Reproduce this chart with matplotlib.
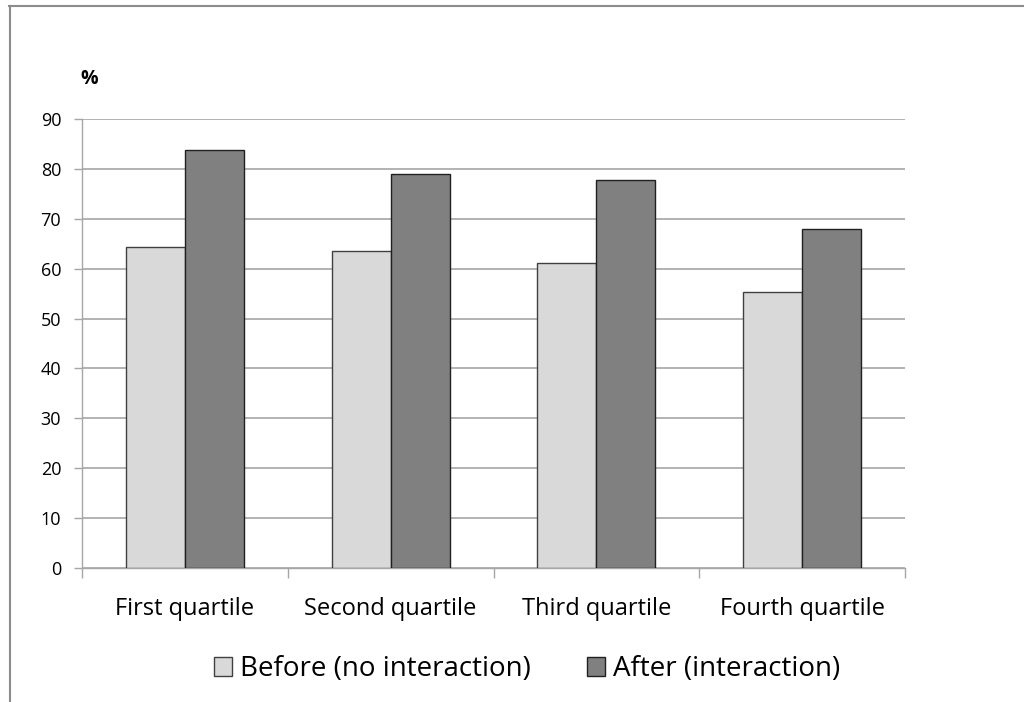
import matplotlib
matplotlib.use("Agg")
import matplotlib.pyplot as plt
from matplotlib.lines import Line2D
from matplotlib.patches import Patch
import numpy as np

categories = ["First quartile", "Second quartile", "Third quartile", "Fourth quartile"]
before = [64.3, 63.5, 61.1, 55.3]
after = [83.8, 79.0, 77.8, 67.9]
series_labels = ["Before (no interaction)", "After (interaction)"]
yticks = [0, 10, 20, 30, 40, 50, 60, 70, 80, 90]

plt.rcParams["font.family"] = ["Open Sans", "DejaVu Sans"]

fig = plt.figure(figsize=(10.24, 7.02), dpi=100)
ax = fig.add_axes([82 / 1024, 1 - 568 / 702, (905 - 82) / 1024, (568 - 119) / 702])

x = np.arange(len(categories))
w = 0.287
ax.bar(x - w / 2, before, width=w, color="#d9d9d9", edgecolor="#404040", linewidth=1.0, zorder=3)
ax.bar(x + w / 2, after, width=w, color="#808080", edgecolor="#202020", linewidth=1.0, zorder=3)

ax.set_xlim(-0.5, len(categories) - 0.5)
ax.set_ylim(0, 90)
ax.set_yticks(yticks)
ax.set_yticklabels([str(t) for t in yticks])
ax.yaxis.grid(True, color="#a6a6a6", linewidth=1.2, zorder=0)

# category separators as major ticks, labels as minor ticks
ax.set_xticks(np.arange(-0.5, len(categories), 1.0))
ax.set_xticklabels([])
ax.set_xticks(x, minor=True)
ax.set_xticklabels(categories, minor=True, fontsize=17)
ax.tick_params(axis="x", which="major", length=7, color="#a6a6a6", width=1.0)
ax.tick_params(axis="x", which="minor", length=0, pad=21)
ax.tick_params(axis="y", length=6, color="#a6a6a6", width=1.0, labelsize=13, pad=9)

for side in ["top", "right"]:
    ax.spines[side].set_visible(False)
for side in ["left", "bottom"]:
    ax.spines[side].set_color("#a6a6a6")
    ax.spines[side].set_linewidth(1.0)

fig.text(80 / 1024, 1 - 79 / 702, "%", fontsize=14, fontweight="bold", va="center", ha="left")

handles = [
    Patch(facecolor="#d9d9d9", edgecolor="#404040", linewidth=1.0),
    Patch(facecolor="#808080", edgecolor="#202020", linewidth=1.0),
]
fig.legend(handles, series_labels, loc="center", bbox_to_anchor=(527 / 1024, 1 - 669 / 702),
           ncol=2, frameon=False, fontsize=20, handlelength=0.65, handleheight=0.65,
           handletextpad=0.3, columnspacing=2.0, borderpad=0)

# outer chart border (left and top edges)
fig.add_artist(Line2D([9.5 / 1024, 9.5 / 1024], [0, 1 - 6 / 702], color="#8c8c8c", linewidth=1.5))
fig.add_artist(Line2D([9 / 1024, 1], [1 - 6 / 702, 1 - 6 / 702], color="#8c8c8c", linewidth=1.5))

fig.savefig("out.png", dpi=100)
